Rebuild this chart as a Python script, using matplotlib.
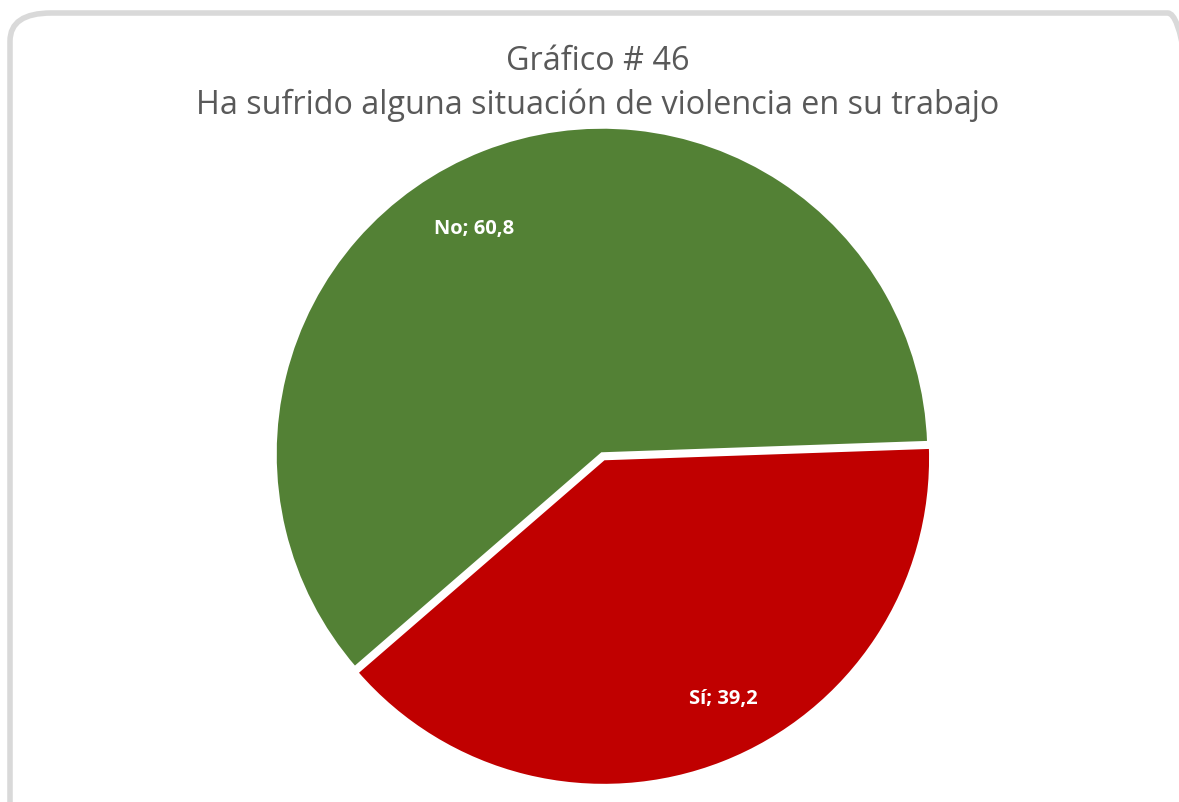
import matplotlib.pyplot as plt
from matplotlib.patches import FancyBboxPatch

# datos
categorias = ['Sí', 'No']
valores = [39.2, 60.8]
colores = ['#C00000', '#538135']
titulo1 = 'Gráfico # 46'
titulo2 = 'Ha sufrido alguna situación de violencia en su trabajo'

W, H = 1179, 803
fig = plt.figure(figsize=(W / 100, H / 100), dpi=100)

# marco redondeado
marco = FancyBboxPatch((10 / W, -30 / H), (W + 20) / W, (H + 16) / H,
                       boxstyle='round,pad=0,rounding_size=0.035',
                       transform=fig.transFigure, facecolor='none',
                       edgecolor='#D9D9D9', linewidth=4, zorder=0)
fig.patches.append(marco)

# eje del pastel: centro (602, 455) px, radio 327 px
cx, cy, r = 602, 455, 327
ax = fig.add_axes([(cx - r) / W, (H - cy - r) / H, 2 * r / W, 2 * r / H])
wedges, _ = ax.pie(valores, colors=colores, startangle=2, counterclock=False,
                   explode=[0.015, 0], radius=1,
                   wedgeprops=dict(edgecolor='white', linewidth=2.5))
ax.set_xlim(-1, 1)
ax.set_ylim(-1, 1)
ax.set_aspect('equal')
ax.axis('off')

# etiquetas de datos
pos_etiquetas = [(0.37, -0.745), (-0.39, 0.69)]
for cat, val, (x, y) in zip(categorias, valores, pos_etiquetas):
    ax.text(x, y, f'{cat}; {val:.1f}'.replace('.', ','), color='white',
            fontsize=14.5, fontweight='bold', family='Open Sans',
            ha='center', va='center')

fig.text(598 / W, 1 - 62 / H, titulo1, ha='center', va='center',
         fontsize=23.3, color='#595959', family='Open Sans')
fig.text(598 / W, 1 - 105 / H, titulo2, ha='center', va='center',
         fontsize=23.3, color='#595959', family='Open Sans')

fig.savefig('out.png', dpi=100)
